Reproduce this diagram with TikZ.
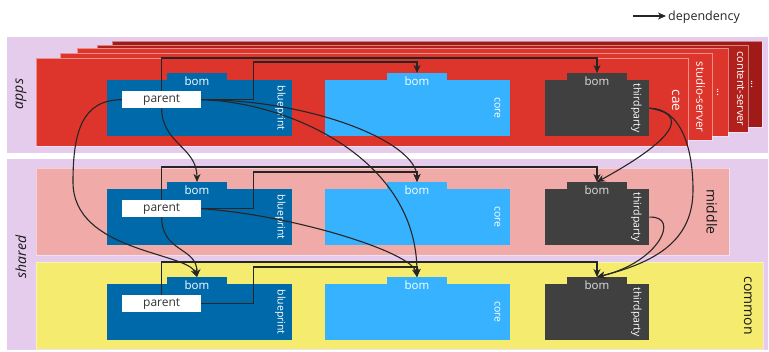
\documentclass[tikz,border=0pt]{standalone}
\usepackage{fontspec}
\setmainfont{Open Sans}
\usetikzlibrary{arrows.meta}
\definecolor{bandpurple}{RGB}{229,203,236}
\definecolor{caered}{RGB}{221,52,44}
\definecolor{darkredone}{RGB}{178,32,28}
\definecolor{darkredtwo}{RGB}{160,27,24}
\definecolor{middlepink}{RGB}{240,170,168}
\definecolor{commonyellow}{RGB}{245,235,110}
\definecolor{bpblue}{RGB}{0,105,170}
\definecolor{coreblue}{RGB}{54,178,255}
\definecolor{tpgray}{RGB}{64,64,64}
\definecolor{depline}{RGB}{38,38,38}
\begin{document}
\begin{tikzpicture}[x=1pt, y=-1pt,
		band/.style={fill=bandpurple, anchor=north west, inner sep=0pt},
		layer/.style={anchor=north west, inner sep=0pt, draw=white, draw opacity=0.45, line width=0.8pt},
		box/.style={anchor=north west, inner sep=0pt, minimum height=56pt},
		tab/.style={anchor=north, inner sep=0pt, minimum width=60pt, minimum height=16pt, text=white, font=\fontsize{11.5}{13}\selectfont},
		parentbox/.style={fill=white, anchor=north west, inner sep=0pt, minimum width=79pt, minimum height=17pt, text=black!80, font=\fontsize{12}{14}\selectfont},
		vlabel/.style={rotate=-90, inner sep=0pt, text=white, font=\fontsize{10.5}{12}\selectfont},
		stacklabel/.style={rotate=-90, inner sep=0pt, text=white, font=\fontsize{11}{13}\selectfont},
		sidelabel/.style={rotate=90, inner sep=0pt, text=black!90, font=\fontsize{14}{16}\selectfont\itshape},
		dep/.style={draw=depline, line width=1.1pt, -{Stealth[length=8pt, width=7pt, inset=2.5pt]}}]
		\useasboundingbox (0,0) rectangle (769,352);
		
		\node[band, minimum width=761pt, minimum height=116pt] (apps) at (7,37) {};
		\node[band, minimum width=761pt, minimum height=191pt] (shared) at (7,159) {};
		\node[sidelabel] (appslbl) at (21,94) {apps};
		\node[sidelabel] (sharedlbl) at (21,257) {shared};
		
		\node[layer, fill=darkredtwo, minimum width=650pt, minimum height=86pt] (etctwo) at (112,41) {};
		\node[layer, fill=darkredone, minimum width=651pt, minimum height=87pt] (content) at (97,45) {};
		\node[layer, fill=caered, minimum width=651pt, minimum height=88pt] (etcone) at (77,48) {};
		\node[layer, fill=caered, minimum width=652pt, minimum height=87pt] (studio) at (60,53) {};
		\node[layer, fill=caered, minimum width=652pt, minimum height=88pt] (cae) at (36,58) {};
		\node[layer, fill=middlepink, minimum width=693pt, minimum height=87pt] (middle) at (36,168) {};
		\node[layer, fill=commonyellow, minimum width=727pt, minimum height=87pt] (common) at (36,262) {};
		
		\node[stacklabel] (etctwolbl) at ([xshift=-11]etctwo.east) {...};
		\node[stacklabel] (contentlbl) at ([xshift=-8]content.east) {content-server};
		\node[stacklabel] (etconelbl) at ([xshift=-11]etcone.east) {...};
		\node[stacklabel, font=\fontsize{11.5}{13}\selectfont] (studiolbl) at ([xshift=-12]studio.east) {studio-server};
		\node[stacklabel, font=\fontsize{13.5}{15}\selectfont] (caelbl) at ([xshift=-13,yshift=2]cae.east) {cae};
		\node[stacklabel, text=black!90, font=\fontsize{14}{16}\selectfont] (middlelbl) at ([xshift=-18]middle.east) {middle};
		\node[stacklabel, text=black!90, font=\fontsize{14}{16}\selectfont] (commonlbl) at ([xshift=-16]common.east) {common};
		
		\node[box, fill=bpblue, minimum width=185pt] (bp1) at (107,80) {};
		\node[tab, fill=bpblue] (bpbom1) at (197,73) {bom};
		\node[box, fill=coreblue, minimum width=185pt] (core1) at (325,80) {};
		\node[tab, fill=coreblue] (corebom1) at (417,73) {bom};
		\node[box, fill=tpgray, minimum width=104pt] (tp1) at (545,80) {};
		\node[tab, fill=tpgray, text=black!12] (tpbom1) at (597,73) {bom};
		\node[parentbox] (par1) at (122,91) {parent};
		\node[vlabel] (bplbl1) at ([xshift=-12]bp1.east) {blueprint};
		\node[vlabel] (corelbl1) at ([xshift=-13]core1.east) {core};
		\node[vlabel] (tplbl1) at ([xshift=-13]tp1.east) {thirdparty};
		
		\node[box, fill=bpblue, minimum width=185pt] (bp2) at (107,189) {};
		\node[tab, fill=bpblue] (bpbom2) at (197,182) {bom};
		\node[box, fill=coreblue, minimum width=185pt] (core2) at (325,189) {};
		\node[tab, fill=coreblue] (corebom2) at (417,182) {bom};
		\node[box, fill=tpgray, minimum width=104pt] (tp2) at (545,189) {};
		\node[tab, fill=tpgray, text=black!12] (tpbom2) at (597,182) {bom};
		\node[parentbox] (par2) at (122,200) {parent};
		\node[vlabel] (bplbl2) at ([xshift=-12]bp2.east) {blueprint};
		\node[vlabel] (corelbl2) at ([xshift=-13]core2.east) {core};
		\node[vlabel] (tplbl2) at ([xshift=-13]tp2.east) {thirdparty};
		
		\node[box, fill=bpblue, minimum width=185pt] (bp3) at (107,284) {};
		\node[tab, fill=bpblue] (bpbom3) at (197,277) {bom};
		\node[box, fill=coreblue, minimum width=185pt] (core3) at (325,284) {};
		\node[tab, fill=coreblue] (corebom3) at (417,277) {bom};
		\node[box, fill=tpgray, minimum width=104pt] (tp3) at (545,284) {};
		\node[tab, fill=tpgray, text=black!12] (tpbom3) at (597,277) {bom};
		\node[parentbox] (par3) at (122,295) {parent};
		\node[vlabel] (bplbl3) at ([xshift=-12]bp3.east) {blueprint};
		\node[vlabel] (corelbl3) at ([xshift=-13]core3.east) {core};
		\node[vlabel] (tplbl3) at ([xshift=-13]tp3.east) {thirdparty};
		
		\coordinate (legstart) at (633,16);
		\node[anchor=west, inner sep=2pt, text=black!85, font=\fontsize{12.5}{14}\selectfont] (legtext) at (666,17) {dependency};
		\draw[dep] (legstart) -- (legstart -| legtext.west);
		
		\draw[dep] (par1.north) |- ([yshift=15]tpbom1.north) -- (tpbom1.north);
		\draw[dep] (par1.east) -- ++(52,0) |- ([yshift=11]corebom1.north) -- (corebom1.north);
		\draw[dep] (par2.north) |- ([yshift=15]tpbom2.north) -- (tpbom2.north);
		\draw[dep] (par2.east) -- ++(52,0) |- ([yshift=10]corebom2.north) -- (corebom2.north);
		\draw[dep] (par3.north) |- ([yshift=15]tpbom3.north) -- (tpbom3.north);
		\draw[dep] (par3.east) -- ++(52,0) |- ([yshift=10]corebom3.north) -- (corebom3.north);
		
		\draw[dep] (par1.south) .. controls +(0,35) and +(0,-35) .. (bpbom2.north);
		\draw[dep] (par2.south) .. controls +(0,35) and +(0,-30) .. (bpbom3.north);
		\coordinate (sweep) at (73,182);
		\draw[dep] (par1.west) .. controls +(-40,0) and +(0,-50) .. (sweep) .. controls +(0,70) and +(-10,-25) .. (bpbom3.north);
		\draw[dep] (par1.east) .. controls +(110,0) and +(0,-40) .. (corebom2.north);
		\draw[dep] (par1.east) .. controls +(85,2) and +(0,-120) .. (corebom3.north);
		\draw[dep] (par2.east) .. controls +(90,6) and +(-5,-25) .. (corebom3.north);
		
		\draw[dep] (tp1.east) .. controls +(52,8) and +(55,-30) .. (tpbom2.north);
		\coordinate (tpbend) at (693,190);
		\draw[dep] (tp1.east) .. controls +(30,0) and +(0,-45) .. (tpbend) .. controls +(0,50) and +(60,-15) .. (tpbom3.north);
		\draw[dep] (tp2.east) .. controls +(31,-2) and +(63,-15) .. (tpbom3.north);
\end{tikzpicture}
\end{document}
